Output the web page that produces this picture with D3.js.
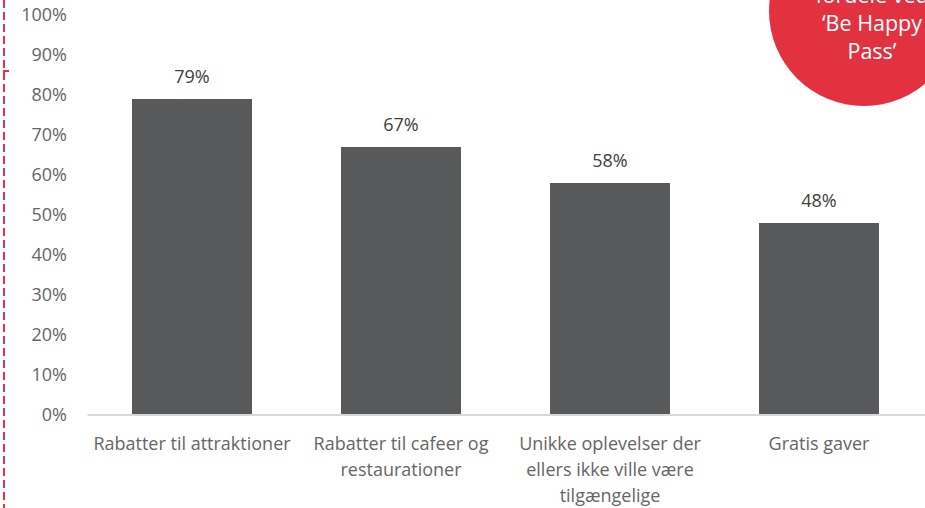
<!DOCTYPE html>
<html><head><meta charset="utf-8">
<script src="https://cdn.jsdelivr.net/npm/d3@7"></script>
<style>body{margin:0;background:#fff;} svg{display:block;}</style>
</head><body>
<script>
const categories = ["Rabatter til attraktioner","Rabatter til cafeer og restaurationer","Unikke oplevelser der ellers ikke ville være tilgængelige","Gratis gaver"];
const values = [0.79, 0.67, 0.58, 0.48];
const valueLabels = ["79%","67%","58%","48%"];
const yTicks = [0,0.1,0.2,0.3,0.4,0.5,0.6,0.7,0.8,0.9,1.0];
const badgeLines = ["fordele ved","‘Be Happy","Pass’"];

const W = 925, H = 508;
const font = "'Open Sans', sans-serif";
const svg = d3.select("body").append("svg").attr("width", W).attr("height", H);

const x = d3.scaleBand().domain(categories).range([87.5, 923.5]).paddingInner(0.426).paddingOuter(0.213);
const y = d3.scaleLinear().domain([0, 1]).range([415, 15]);

// red dashed line at left
svg.append("line").attr("x1",4).attr("x2",4).attr("y1",0).attr("y2",H)
  .attr("stroke","#E8334A").attr("stroke-width",2).attr("stroke-dasharray","8,4");
svg.append("line").attr("x1",3).attr("x2",9).attr("y1",71).attr("y2",71)
  .attr("stroke","#E8334A").attr("stroke-width",2);

// y axis labels
const yAxis = d3.axisLeft(y).tickValues(yTicks).tickFormat(d3.format(".0%")).tickSize(0).tickPadding(0);
const ya = svg.append("g").attr("transform","translate(67,0)").call(yAxis);
ya.select(".domain").remove();
ya.selectAll("text").attr("fill","#666666").attr("font-family",font).attr("font-size","18px").attr("font-weight",400);

// bars
svg.selectAll("rect.bar").data(values).join("rect").attr("class","bar")
  .attr("x",(d,i)=>x(categories[i])).attr("width",x.bandwidth())
  .attr("y",d=>y(d)).attr("height",d=>y(0)-y(d)).attr("fill","#58595B");

// x axis
const xAxis = d3.axisBottom(x).tickSize(0).tickPadding(0);
const xa = svg.append("g").attr("transform",`translate(0,${y(0)})`).call(xAxis);
xa.select(".domain").attr("stroke","#D9D9D9").attr("stroke-width",2).attr("d","M87.5,0H925");
xa.selectAll("text").remove();

// category labels wrapped
const lab = svg.append("g");
categories.forEach((c)=>{
  const cx = x(c)+x.bandwidth()/2;
  const t = lab.append("text").attr("x", cx).attr("y", 450)
    .attr("text-anchor","middle").attr("fill","#666666").attr("font-family",font).attr("font-size","18px").attr("font-weight",400);
  const words = c.split(" ");
  let line = [];
  let ts = t.append("tspan").attr("x", cx).attr("dy",0);
  words.forEach(w=>{
    line.push(w);
    ts.text(line.join(" "));
    if (ts.node().getComputedTextLength() > 214 && line.length>1){
      line.pop(); ts.text(line.join(" "));
      line=[w];
      ts = t.append("tspan").attr("x", cx).attr("dy","26px").text(w);
    }
  });
});

// value labels
svg.selectAll("text.val").data(values).join("text").attr("class","val")
  .attr("x",(d,i)=>x(categories[i])+x.bandwidth()/2).attr("y",d=>y(d)-16)
  .attr("text-anchor","middle").attr("fill","#404040").attr("font-family",font).attr("font-size","18px").attr("font-weight",400)
  .text((d,i)=>valueLabels[i]);

// badge
svg.append("circle").attr("cx",864).attr("cy",11).attr("r",95).attr("fill","#E3323F");
svg.selectAll("text.badge").data(badgeLines).join("text").attr("class","badge")
  .attr("x",872).attr("y",(d,i)=>3+i*28).attr("text-anchor","middle")
  .attr("fill","#fff").attr("font-family",font).attr("font-size","21.5px").text(d=>d);
</script>
</body></html>
